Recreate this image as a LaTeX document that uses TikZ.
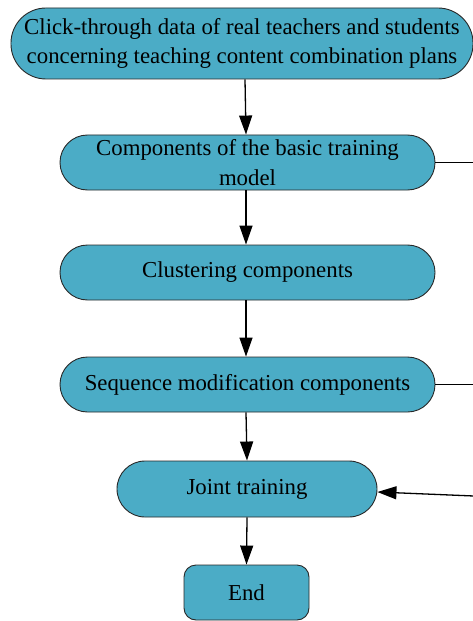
\documentclass[tikz,border=0pt]{standalone}
\usepackage{fontspec}
\setmainfont{Liberation Serif}
\usetikzlibrary{arrows.meta}
\definecolor{boxfill}{RGB}{75,172,198}
\definecolor{boxline}{RGB}{40,40,40}
\begin{document}
\begin{tikzpicture}[x=1bp,y=-1bp,
  box/.style={draw=boxline,line width=0.9bp,fill=boxfill,align=center,inner sep=0pt,
    font=\fontsize{22.8bp}{29.5bp}\selectfont,text=black},
  pill/.style={box,rounded corners=#1},
  arr/.style={-{Triangle[length=19bp,width=13bp]},line width=1.3bp,black},
  ln/.style={line width=1.3bp,black}]
\useasboundingbox (0,0) rectangle (473,621);
\node[pill=35bp,minimum width=462bp,minimum height=71bp] (n1) at (242,43.5)
  {Click-through data of real teachers and students\\concerning teaching content combination plans};
\node[pill=27.5bp,minimum width=375bp,minimum height=55bp] (n2) at (247.5,162.5)
  {Components of the basic training\\model};
\node[pill=27.5bp,minimum width=375bp,minimum height=55bp] (n3) at (247.5,272.5)
  {Clustering components};
\node[pill=27.5bp,minimum width=375bp,minimum height=55bp] (n4) at (247.5,384.5)
  {Sequence modification components};
\node[pill=28bp,minimum width=260bp,minimum height=56bp] (n5) at (247,489)
  {Joint training};
\node[pill=12bp,minimum width=125bp,minimum height=55bp] (n6) at (246.5,592.5)
  {End};
\coordinate (r2) at (474,162.5);
\coordinate (r4) at (474,384.5);
\coordinate (r5) at (474,496);
\draw[arr] ([xshift=3bp]n1.south) -- ([xshift=-1.5bp]n2.north);
\draw[arr] ([xshift=-1.5bp]n2.south) -- ([xshift=-1.5bp]n3.north);
\draw[arr] ([xshift=-1.5bp]n3.south) -- ([xshift=-1.5bp]n4.north);
\draw[arr] ([xshift=-1.5bp]n4.south) -- (n5.north);
\draw[arr] (n5.south) -- (n6.north);
\draw[ln] (n2.east) -- (r2);
\draw[ln] (n4.east) -- (r4);
\draw[arr] (r5) -- ([yshift=-3bp]n5.east);
\end{tikzpicture}
\end{document}
